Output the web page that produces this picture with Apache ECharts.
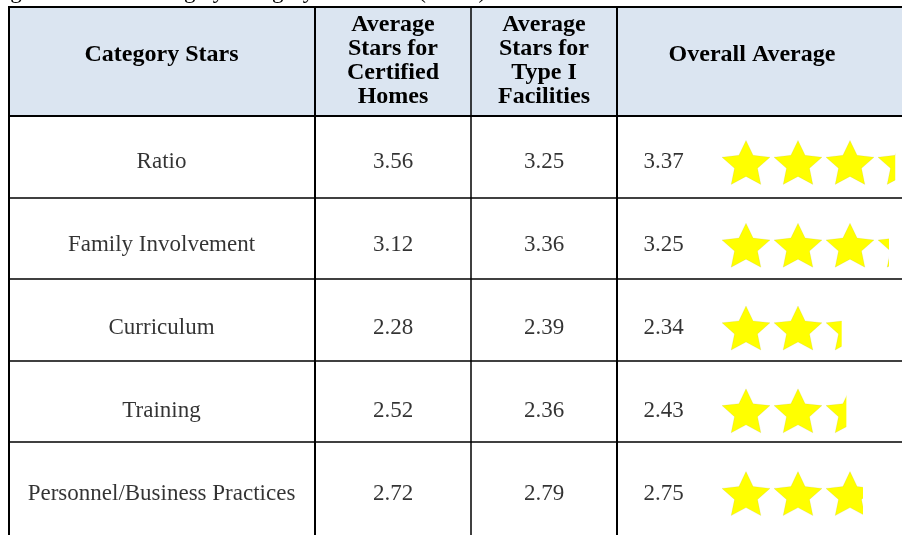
<!DOCTYPE html>
<html>
<head>
<meta charset="utf-8">
<script src="https://cdn.jsdelivr.net/npm/echarts@6/dist/echarts.min.js"></script>
<style>
html,body{margin:0;padding:0;background:#fff;}
#chart{width:902px;height:535px;}
</style>
</head>
<body>
<div id="chart"></div>
<script>
// ---- data ----
const titleText = 'Figure 3 \u2013 Star Rating by Category for Model (FY08)';
const headers = ['Category Stars', 'Average\nStars for\nCertified\nHomes', 'Average\nStars for\nType I\nFacilities', 'Overall Average'];
const categories = ['Ratio', 'Family Involvement', 'Curriculum', 'Training', 'Personnel/Business Practices'];
const certifiedHomes = [3.56, 3.12, 2.28, 2.52, 2.72];
const typeIFacilities = [3.25, 3.36, 2.39, 2.36, 2.79];
const overallAverage = [3.37, 3.25, 2.34, 2.43, 2.75];
const maxStars = 4;

// ---- styling / layout ----
const SERIF = 'Liberation Serif';
const starPath = 'path://M50 0 L64.1 30.6 L97.55 34.55 L72.8 57.4 L79.39 90.45 L50 74 L20.61 90.45 L27.2 57.4 L2.45 34.55 L35.9 30.6 Z';

const chart = echarts.init(document.getElementById('chart'), null, {renderer: 'canvas'});

const rowTop = 121, rowHeight = 415;
const grids = [
  {left: 8, right: 0, top: 116, height: 407.5},            // 0: row separators
  {left: 8, width: 307, top: rowTop, height: rowHeight},   // 1: category names
  {left: 315, width: 156, top: rowTop, height: rowHeight}, // 2: certified
  {left: 471, width: 146, top: rowTop, height: rowHeight}, // 3: type I
  {left: 643, width: 60, top: rowTop, height: rowHeight},  // 4: overall number
  {left: 720, width: 182, top: rowTop, height: rowHeight}  // 5: stars (3.5 units visible)
];

const xAxes = grids.map((g, i) => ({
  gridIndex: i, type: 'value', min: 0, max: i === 5 ? 3.5 : 1, show: false
}));
const yAxes = grids.map((g, i) => ({
  gridIndex: i, type: 'category', data: categories, inverse: true,
  show: i === 0,
  axisLine: {show: false}, axisTick: {show: false}, axisLabel: {show: false},
  splitLine: i === 0 ? {show: true, showMinLine: true, showMaxLine: false, lineStyle: {color: '#000', width: 1.6}} : {show: false}
}));

function textSeries(idx, names, pos) {
  return {
    type: 'scatter', xAxisIndex: idx, yAxisIndex: idx, silent: true,
    symbolSize: 1, itemStyle: {color: 'rgba(0,0,0,0)'},
    data: names.map((n, i) => ({name: n, value: [pos === 'right' ? 0 : 0.5, i]})),
    label: {
      show: true, position: pos, distance: 0, formatter: '{b}',
      color: '#000', fontFamily: SERIF, fontSize: 23, textBorderWidth: 0
    },
    emphasis: {disabled: true}
  };
}

const fmt = v => v.toFixed(2);

const series = [
  {type: 'scatter', xAxisIndex: 0, yAxisIndex: 0, data: [], silent: true},
  textSeries(1, categories, 'inside'),
  textSeries(2, certifiedHomes.map(fmt), 'inside'),
  textSeries(3, typeIFacilities.map(fmt), 'inside'),
  textSeries(4, overallAverage.map(fmt), 'right'),
  {
    type: 'pictorialBar', xAxisIndex: 5, yAxisIndex: 5, silent: true,
    data: overallAverage,
    symbol: starPath,
    symbolRepeat: true,
    symbolClip: true,
    symbolBoundingData: maxStars,
    symbolSize: [48, 44],
    symbolMargin: '2!',
    symbolPosition: 'start',
    itemStyle: {color: '#ffff00', borderColor: '#9c9c55', borderWidth: 1.2},
    emphasis: {disabled: true}
  }
];

function hText(x, y, text) {
  return {type: 'text', x: x, y: y, style: {
    text: text, fontFamily: SERIF, fontWeight: 'bold', fontSize: 24, lineHeight: 24,
    fill: '#000', align: 'center', verticalAlign: 'middle'
  }};
}

const graphic = [
  {type: 'rect', shape: {x: 8, y: 7, width: 894, height: 109}, style: {fill: '#dbe5f1'}, z: -10},
  {type: 'text', x: -9, y: 3, style: {text: titleText, fontFamily: SERIF, fontSize: 23, fill: '#000', verticalAlign: 'bottom'}},
  {type: 'line', shape: {x1: 8, y1: 7, x2: 902, y2: 7}, style: {stroke: '#000', lineWidth: 2}},
  {type: 'line', shape: {x1: 8, y1: 116, x2: 902, y2: 116}, style: {stroke: '#000', lineWidth: 2}},
  {type: 'line', shape: {x1: 9, y1: 6, x2: 9, y2: 535}, style: {stroke: '#000', lineWidth: 2}},
  {type: 'line', shape: {x1: 315, y1: 7, x2: 315, y2: 535}, style: {stroke: '#000', lineWidth: 2}},
  {type: 'line', shape: {x1: 471, y1: 7, x2: 471, y2: 535}, style: {stroke: '#000', lineWidth: 1.5}},
  {type: 'line', shape: {x1: 617, y1: 7, x2: 617, y2: 535}, style: {stroke: '#000', lineWidth: 2}},
  hText(161.5, 55, headers[0]),
  hText(393, 61, headers[1]),
  hText(544, 61, headers[2]),
  hText(752, 55, headers[3])
];

chart.setOption({
  animation: false,
  backgroundColor: '#fff',
  grid: grids,
  xAxis: xAxes,
  yAxis: yAxes,
  series: series,
  graphic: graphic
});
</script>
</body>
</html>
